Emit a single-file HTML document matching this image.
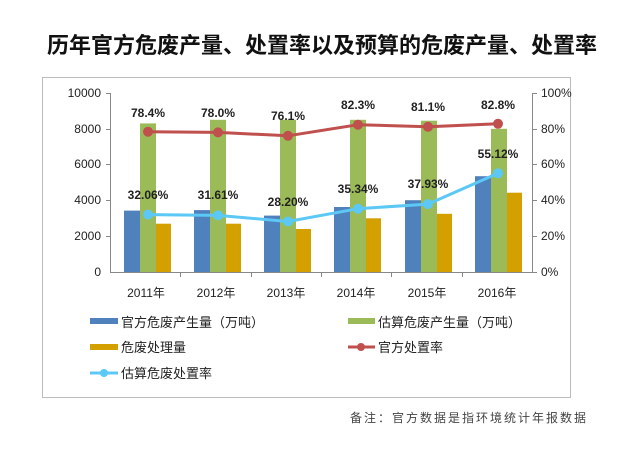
<!DOCTYPE html>
<html><head><meta charset="utf-8"><style>
body{margin:0;background:#fff}
svg text{font-family:"Liberation Sans","Noto Sans CJK SC",sans-serif}
</style></head><body>
<svg width="640" height="449" viewBox="0 0 640 449">
<text x="322" y="53" text-anchor="middle" font-size="22" font-weight="bold" fill="#111">历年官方危废产量、处置率以及预算的危废产量、处置率</text>
<rect x="42.5" y="77.5" width="528" height="320" fill="none" stroke="#bbb" stroke-width="1"/>
<g stroke="#888" stroke-width="1">
<line x1="110.5" y1="93" x2="110.5" y2="272"/>
<line x1="532.5" y1="93" x2="532.5" y2="272"/>
<line x1="110" y1="272.5" x2="533" y2="272.5"/>
<line x1="106" y1="93.5" x2="110" y2="93.5"/><line x1="106" y1="129.5" x2="110" y2="129.5"/><line x1="106" y1="164.5" x2="110" y2="164.5"/><line x1="106" y1="200.5" x2="110" y2="200.5"/><line x1="106" y1="236.5" x2="110" y2="236.5"/>
<line x1="533" y1="93.5" x2="537" y2="93.5"/><line x1="533" y1="129.5" x2="537" y2="129.5"/><line x1="533" y1="164.5" x2="537" y2="164.5"/><line x1="533" y1="200.5" x2="537" y2="200.5"/><line x1="533" y1="236.5" x2="537" y2="236.5"/><line x1="533" y1="272.5" x2="537" y2="272.5"/>
<line x1="180.5" y1="272" x2="180.5" y2="277"/><line x1="251.5" y1="272" x2="251.5" y2="277"/><line x1="321.5" y1="272" x2="321.5" y2="277"/><line x1="391.5" y1="272" x2="391.5" y2="277"/><line x1="462.5" y1="272" x2="462.5" y2="277"/>
</g>
<g font-size="12" fill="#222" text-anchor="end">
<text x="101" y="97">10000</text><text x="101" y="133">8000</text><text x="101" y="168">6000</text><text x="101" y="204">4000</text><text x="101" y="240">2000</text><text x="101" y="276">0</text>
</g>
<g font-size="12" fill="#222">
<text x="541" y="97">100%</text><text x="541" y="133">80%</text><text x="541" y="168">60%</text><text x="541" y="204">40%</text><text x="541" y="240">20%</text><text x="541" y="276">0%</text>
</g>
<g font-size="12" fill="#222" text-anchor="middle">
<text x="146" y="297">2011年</text><text x="216" y="297">2012年</text><text x="286" y="297">2013年</text><text x="356" y="297">2014年</text><text x="427" y="297">2015年</text><text x="497" y="297">2016年</text>
</g>
<g>
<rect x="124" y="210.6" width="16" height="61.4" fill="#4f81bd"/>
<rect x="140" y="123.4" width="16" height="148.6" fill="#9bbb59"/>
<rect x="156" y="223.7" width="15" height="48.3" fill="#d4a000"/>
<rect x="194" y="210.1" width="16" height="61.9" fill="#4f81bd"/>
<rect x="210" y="119.8" width="16" height="152.2" fill="#9bbb59"/>
<rect x="226" y="223.7" width="15" height="48.3" fill="#d4a000"/>
<rect x="264" y="215.6" width="16" height="56.4" fill="#4f81bd"/>
<rect x="280" y="119.8" width="16" height="152.2" fill="#9bbb59"/>
<rect x="296" y="229" width="15" height="43" fill="#d4a000"/>
<rect x="334" y="207" width="16" height="65" fill="#4f81bd"/>
<rect x="350" y="119.8" width="16" height="152.2" fill="#9bbb59"/>
<rect x="366" y="218.3" width="15" height="53.7" fill="#d4a000"/>
<rect x="405" y="200.2" width="16" height="71.8" fill="#4f81bd"/>
<rect x="421" y="120.7" width="16" height="151.3" fill="#9bbb59"/>
<rect x="437" y="213.8" width="15" height="58.2" fill="#d4a000"/>
<rect x="475" y="176.2" width="16" height="95.8" fill="#4f81bd"/>
<rect x="491" y="128.8" width="16" height="143.2" fill="#9bbb59"/>
<rect x="507" y="192.7" width="15" height="79.3" fill="#d4a000"/>
</g>
<polyline points="148,131.7 218,132.4 288,135.8 358,124.7 428,126.8 498,123.8" fill="none" stroke="#c0504d" stroke-width="3"/>
<g fill="#c0504d"><circle cx="148" cy="131.7" r="5"/><circle cx="218" cy="132.4" r="5"/><circle cx="288" cy="135.8" r="5"/><circle cx="358" cy="124.7" r="5"/><circle cx="428" cy="126.8" r="5"/><circle cx="498" cy="123.8" r="5"/></g>
<polyline points="148,214.6 218,215.4 288,221.5 358,208.7 428,204.1 498,173.3" fill="none" stroke="#5bc8f5" stroke-width="3"/>
<g fill="#5bc8f5"><circle cx="148" cy="214.6" r="5"/><circle cx="218" cy="215.4" r="5"/><circle cx="288" cy="221.5" r="5"/><circle cx="358" cy="208.7" r="5"/><circle cx="428" cy="204.1" r="5"/><circle cx="498" cy="173.3" r="5"/></g>
<g font-size="12" font-weight="bold" fill="#222" text-anchor="middle">
<text x="148" y="117">78.4%</text><text x="218" y="117">78.0%</text><text x="288" y="120">76.1%</text><text x="358" y="109">82.3%</text><text x="428" y="111">81.1%</text><text x="498" y="109">82.8%</text>
<text x="148" y="199">32.06%</text><text x="218" y="199">31.61%</text><text x="288" y="206">28.20%</text><text x="358" y="193">35.34%</text><text x="428" y="188">37.93%</text><text x="498" y="158">55.12%</text>
</g>
<g font-size="13" fill="#222">
<rect x="90" y="318" width="28" height="6" fill="#4f81bd"/><text x="121" y="327">官方危废产生量（万吨）</text>
<rect x="348" y="318" width="27" height="6" fill="#9bbb59"/><text x="378" y="327">估算危废产生量（万吨）</text>
<rect x="90" y="344" width="28" height="6" fill="#d4a000"/><text x="121" y="352">危废处理量</text>
<line x1="348" y1="347" x2="375" y2="347" stroke="#c0504d" stroke-width="3"/><circle cx="361" cy="347" r="4" fill="#c0504d"/><text x="378" y="352">官方处置率</text>
<line x1="90" y1="373" x2="118" y2="373" stroke="#5bc8f5" stroke-width="3"/><circle cx="104" cy="373" r="4" fill="#5bc8f5"/><text x="121" y="378">估算危废处置率</text>
</g>
<text x="588" y="422" text-anchor="end" font-size="12" fill="#444" letter-spacing="2">备注：官方数据是指环境统计年报数据</text>
</svg>
</body></html>
